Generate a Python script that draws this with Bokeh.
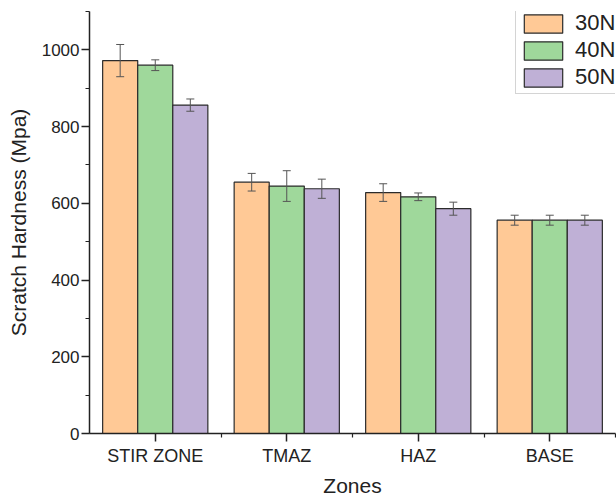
from bokeh.plotting import figure
from bokeh.models import (ColumnDataSource, Whisker, FixedTicker, Legend, LegendItem, Range1d)
from bokeh.embed import file_html
from bokeh.resources import INLINE

zones = ["STIR ZONE", "TMAZ", "HAZ", "BASE"]
loads = ["30N", "40N", "50N"]
values_30 = [972, 655, 628, 556]
values_40 = [960, 645, 617, 556]
values_50 = [856, 638, 586, 556]
errors_30 = [42, 23, 23, 13]
errors_40 = [14, 40, 10, 13]
errors_50 = [16, 25, 17, 13]
y_ticks = [0, 200, 400, 600, 800, 1000]

series = [values_30, values_40, values_50]
errors = [errors_30, errors_40, errors_50]
colors = ["#FFC996", "#9FD89B", "#BFB0D6"]

FONT = "Liberation Sans"

p = figure(output_backend="svg", toolbar_location=None,
           frame_width=526, frame_height=422,
           min_border_left=89, min_border_right=1, min_border_top=11, min_border_bottom=64,
           x_range=Range1d(0, len(zones)), y_range=Range1d(0, 1100))

bar_w = 0.8 / 3
offsets = [-bar_w, 0.0, bar_w]
renderers = []
for k in range(3):
    xs = [i + 0.5 + offsets[k] for i in range(len(zones))]
    src = ColumnDataSource(dict(x=xs, top=series[k],
                                upper=[v + e for v, e in zip(series[k], errors[k])],
                                lower=[v - e for v, e in zip(series[k], errors[k])]))
    r = p.vbar(x="x", top="top", width=bar_w, bottom=0, source=src,
               fill_color=colors[k], line_color="#2b2b2b", line_width=1.2)
    renderers.append(r)
    w = Whisker(base="x", upper="upper", lower="lower", source=src,
                line_color="#555555", line_width=1, level="overlay")
    w.upper_head.size = 8
    w.lower_head.size = 8
    w.upper_head.line_color = "#555555"
    w.lower_head.line_color = "#555555"
    p.add_layout(w)

p.xgrid.visible = False
p.ygrid.visible = False
p.outline_line_color = None

xa = p.xaxis[0]
xa.ticker = FixedTicker(ticks=[i + 0.5 for i in range(len(zones))],
                        minor_ticks=[i + 1 for i in range(len(zones))])
xa.major_label_overrides = {i + 0.5: z for i, z in enumerate(zones)}
xa.axis_label = "Zones"
ya = p.yaxis[0]
ya.ticker = FixedTicker(ticks=y_ticks, minor_ticks=list(range(0, 1101, 100)))
ya.axis_label = "Scratch Hardness (Mpa)"

for ax in (xa, ya):
    ax.axis_line_color = "#222222"
    ax.axis_line_width = 1.5
    ax.major_tick_line_color = "#222222"
    ax.minor_tick_line_color = "#222222"
    ax.major_tick_line_width = 1.5
    ax.minor_tick_line_width = 1.2
    ax.major_tick_out = 8
    ax.major_tick_in = 0
    ax.minor_tick_out = 4
    ax.minor_tick_in = 0
    ax.major_label_text_font = FONT
    ax.major_label_text_color = "#222222"
    ax.axis_label_text_font = FONT
    ax.axis_label_text_font_size = "21px"
    ax.axis_label_text_font_style = "normal"
    ax.axis_label_text_color = "#222222"

ya.major_label_text_font_size = "17px"
xa.major_label_text_font_size = "18px"
ya.major_label_standoff = 2
ya.axis_label_standoff = 9
xa.major_label_standoff = 4
xa.axis_label_standoff = 5

legend = Legend(items=[LegendItem(label=l, renderers=[r]) for l, r in zip(loads, renderers)],
                location=(426, 339))
legend.glyph_width = 48
legend.glyph_height = 23
legend.label_height = 23
legend.label_width = 50
legend.spacing = 1
legend.padding = 3
legend.margin = 0
legend.label_standoff = 8
legend.label_text_font = FONT
legend.label_text_font_size = "22px"
legend.label_text_color = "#222222"
legend.border_line_color = "#aaaaaa"
legend.border_line_width = 1
legend.background_fill_color = "white"
legend.background_fill_alpha = 1
p.add_layout(legend)

open("out.html", "w").write(file_html(p, INLINE))
